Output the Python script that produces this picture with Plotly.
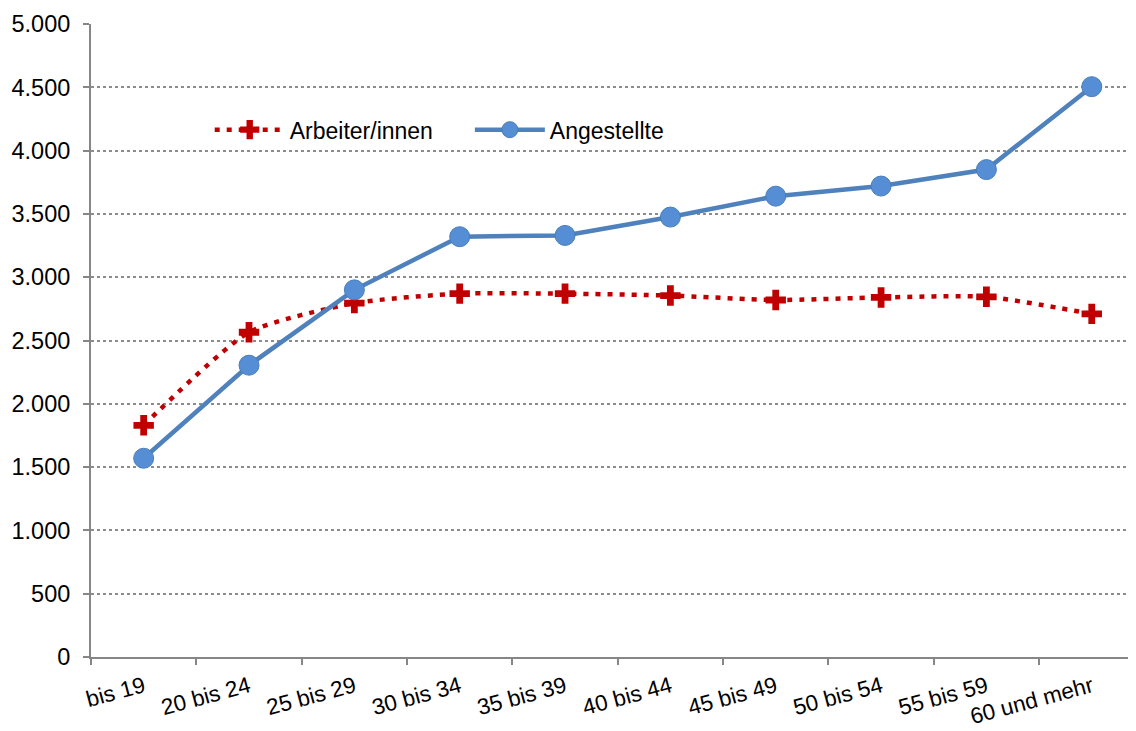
import plotly.graph_objects as go

categories = ["bis 19", "20 bis 24", "25 bis 29", "30 bis 34", "35 bis 39",
              "40 bis 44", "45 bis 49", "50 bis 54", "55 bis 59", "60 und mehr"]
arbeiter = [1830, 2565, 2795, 2870, 2870, 2855, 2820, 2840, 2845, 2710]
angestellte = [1570, 2305, 2900, 3320, 3330, 3475, 3640, 3720, 3850, 4505]
y_ticks = [0, 500, 1000, 1500, 2000, 2500, 3000, 3500, 4000, 4500, 5000]
y_labels = ["0", "500", "1.000", "1.500", "2.000", "2.500", "3.000", "3.500", "4.000", "4.500", "5.000"]

fig = go.Figure()
fig.add_trace(go.Scatter(
    x=categories, y=arbeiter, name="Arbeiter/innen" + "\u00a0" * 5,
    mode="lines+markers",
    line=dict(color="#C00000", width=4.5, dash="5px,7px", shape="spline", smoothing=0.6),
    marker=dict(symbol="cross", size=17, color="#C00000"),
))
fig.add_trace(go.Scatter(
    x=categories, y=angestellte, name="Angestellte",
    mode="lines+markers",
    line=dict(color="#4F81BD", width=4.5),
    marker=dict(symbol="circle", size=20, color="#558ED5", line=dict(color="#4A7EBB", width=1)),
))

fig.update_layout(
    width=1128, height=723,
    margin=dict(l=83, r=0, t=16, b=74, autoexpand=False),
    paper_bgcolor="white", plot_bgcolor="white",
    font=dict(family="Liberation Sans, Arial", size=23, color="black"),
    showlegend=True,
    legend=dict(orientation="h", x=0.1136, y=0.833, xanchor="left", yanchor="middle",
                font=dict(size=23), itemwidth=70, bgcolor="rgba(0,0,0,0)", tracegroupgap=0),
)
fig.update_xaxes(
    type="category", range=[-0.5, 9.42], automargin=False,
    showline=True, linecolor="#868686", linewidth=2,
    ticks="outside", ticklen=6, tickcolor="#868686", tickwidth=2,
    tickson="boundaries", tickangle=-15, showgrid=False,
    tickfont=dict(size=22.5), ticklabelstandoff=6,
)
fig.update_yaxes(
    range=[0, 5000], tickvals=y_ticks, ticktext=y_labels, automargin=False,
    showline=True, linecolor="#868686", linewidth=2,
    ticks="outside", ticklen=6, tickcolor="#868686", tickwidth=2,
    showgrid=True, gridcolor="#8C8C8C", griddash="dot", gridwidth=1.5,
    zeroline=False, tickfont=dict(size=23.5), ticklabelstandoff=8,
)

fig.write_html("out.html")
